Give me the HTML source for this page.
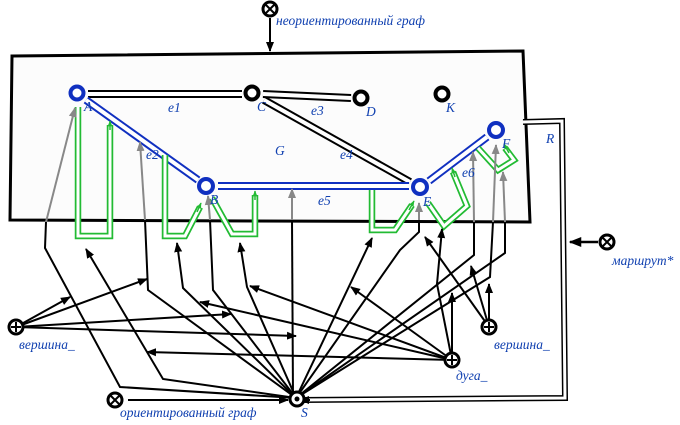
<!DOCTYPE html>
<html><head><meta charset="utf-8"><style>
body{margin:0;background:#fff}
svg{display:block}
.l{font-family:"Liberation Serif",serif;font-style:italic;fill:#1040b0;font-size:13.5px}
</style></head><body>
<svg width="680" height="425" viewBox="0 0 680 425" xmlns="http://www.w3.org/2000/svg">
<defs>
<marker id="ab" viewBox="0 0 10 10" refX="9" refY="5" markerWidth="5" markerHeight="5" orient="auto"><path d="M0,1L10,5L0,9z" fill="#000"/></marker>
<marker id="ag" viewBox="0 0 10 10" refX="9" refY="5" markerWidth="5" markerHeight="5" orient="auto"><path d="M0,1L10,5L0,9z" fill="#888"/></marker>
<marker id="agr" viewBox="0 0 10 10" refX="9" refY="5" markerWidth="4" markerHeight="4" orient="auto"><path d="M0,1L10,5L0,9z" fill="#22bb33"/></marker>
</defs>
<polygon points="12,56 523,51 530,222 10,220" fill="#fcfcfc" stroke="#000" stroke-width="3"/>
<path d="M523,122 L562,121 L565,398 L300,400" fill="none" stroke="#000" stroke-width="6"/>
<path d="M523,122 L562,121 L565,398 L300,400" fill="none" stroke="#fff" stroke-width="3"/>
<line x1="310" y1="400" x2="300" y2="400" stroke="#000" stroke-width="2" marker-end="url(#ab)"/>
<line x1="598" y1="242" x2="570" y2="242" stroke="#000" stroke-width="2.5" marker-end="url(#ab)"/>
<g stroke-linecap="butt">
<line x1="88" y1="94" x2="242" y2="94" stroke="#000" stroke-width="8"/><line x1="88" y1="94" x2="242" y2="94" stroke="#fff" stroke-width="4"/>
<line x1="263" y1="94" x2="351" y2="98" stroke="#000" stroke-width="8"/><line x1="263" y1="94" x2="351" y2="98" stroke="#fff" stroke-width="4"/>
<line x1="264" y1="100" x2="410" y2="182" stroke="#000" stroke-width="8"/><line x1="264" y1="100" x2="410" y2="182" stroke="#fff" stroke-width="4"/>
<line x1="86" y1="100" x2="198" y2="180" stroke="#1030c0" stroke-width="8"/><line x1="86" y1="100" x2="198" y2="180" stroke="#fff" stroke-width="4"/>
<line x1="218" y1="186" x2="409" y2="186" stroke="#1030c0" stroke-width="8"/><line x1="218" y1="186" x2="409" y2="186" stroke="#fff" stroke-width="4"/>
<line x1="429" y1="181" x2="487" y2="137" stroke="#1030c0" stroke-width="8"/><line x1="429" y1="181" x2="487" y2="137" stroke="#fff" stroke-width="4"/>
</g>
<g fill="none">
<path id="g1" d="M78,107 L78,236 L110,236 L110,125"/>
<path id="g2" d="M165,155 L165,236 L185,236 L200,207"/>
<path id="g3" d="M212,198 L232,234 L255,234 L255,195"/>
<path id="g4" d="M372,190 L372,230 L395,230 L412,205"/>
<path id="g5" d="M428,203 L444,226 L467,206 L453,172"/>
<path id="g6" d="M478,148 L498,170 L514,160 L505,148"/>
</g>
<g fill="none" stroke="#22bb33" stroke-width="6.5"><use href="#g1"/><use href="#g2"/><use href="#g3"/><use href="#g4"/><use href="#g5"/><use href="#g6"/></g>
<g fill="none" stroke="#fff" stroke-width="3"><use href="#g1"/><use href="#g2"/><use href="#g3"/><use href="#g4"/><use href="#g5"/><use href="#g6"/></g>
<g stroke="#22bb33" stroke-width="1.5"><line x1="110" y1="130" x2="110" y2="121" marker-end="url(#agr)"/><line x1="197" y1="212" x2="201" y2="203" marker-end="url(#agr)"/><line x1="255" y1="200" x2="255" y2="191" marker-end="url(#agr)"/><line x1="409" y1="210" x2="414" y2="201" marker-end="url(#agr)"/><line x1="455" y1="177" x2="452" y2="168" marker-end="url(#agr)"/><line x1="509" y1="153" x2="504" y2="144" marker-end="url(#agr)"/></g>
<g fill="#fff" stroke-width="4">
<circle cx="77" cy="93" r="6.5" stroke="#1030c0"/>
<circle cx="252" cy="93" r="6.5" stroke="#000"/>
<circle cx="361" cy="98" r="6.5" stroke="#000"/>
<circle cx="442" cy="94" r="6.5" stroke="#000"/>
<circle cx="206" cy="186" r="7" stroke="#1030c0"/>
<circle cx="420" cy="187" r="7" stroke="#1030c0"/>
<circle cx="496" cy="130" r="7" stroke="#1030c0"/>
</g>
<g fill="none" stroke="#888" stroke-width="2">
<polyline points="46,222 75,108" marker-end="url(#ag)"/>
<polyline points="145,220 140,142" marker-end="url(#ag)"/>
<polyline points="210,220 208,196" marker-end="url(#ag)"/>
<polyline points="292,220 292,189" marker-end="url(#ag)"/>
<polyline points="419,220 419,203" marker-end="url(#ag)"/>
<polyline points="474,222 473,152" marker-end="url(#ag)"/>
<polyline points="493,222 496,145" marker-end="url(#ag)"/>
<polyline points="505,222 503,172" marker-end="url(#ag)"/>
</g>
<g fill="none" stroke="#000" stroke-width="2">
<polyline points="296,398 120,387 45,248 46,222"/>
<polyline points="296,398 163,379 86,249" marker-end="url(#ab)"/>
<polyline points="296,398 148,290 145,220"/>
<polyline points="296,398 183,288 177,243" marker-end="url(#ab)"/>
<polyline points="296,398 213,290 210,220"/>
<polyline points="296,398 247,287 240,243" marker-end="url(#ab)"/>
<polyline points="293,398 292,220"/>
<polyline points="296,398 372,238" marker-end="url(#ab)"/>
<polyline points="296,398 400,250 419,232 419,220"/>
<polyline points="296,398 474,255 474,222"/>
<polyline points="296,398 490,277 493,222"/>
<polyline points="296,398 505,253 505,222"/>
<polyline points="16,327 70,297" marker-end="url(#ab)"/>
<polyline points="16,327 147,279" marker-end="url(#ab)"/>
<polyline points="16,327 231,314" marker-end="url(#ab)"/>
<polyline points="16,327 296,336" marker-end="url(#ab)"/>
<polyline points="452,360 147,352" marker-end="url(#ab)"/>
<polyline points="452,360 200,302" marker-end="url(#ab)"/>
<polyline points="452,360 250,286" marker-end="url(#ab)"/>
<polyline points="452,360 351,287" marker-end="url(#ab)"/>
<polyline points="452,360 437,284 442,229" marker-end="url(#ab)"/>
<polyline points="452,360 452,293" marker-end="url(#ab)"/>
<polyline points="489,327 425,237" marker-end="url(#ab)"/>
<polyline points="489,327 471,266" marker-end="url(#ab)"/>
<polyline points="489,327 489,284" marker-end="url(#ab)"/>
<polyline points="128,400 288,400" marker-end="url(#ab)"/>
<polyline points="270,18 270,51" marker-end="url(#ab)"/>
</g>
<g stroke="#000" stroke-width="3" fill="#fff">
<circle cx="270" cy="9" r="7"/><circle cx="115" cy="400" r="7"/><circle cx="607" cy="242" r="7"/>
<circle cx="16" cy="327" r="7"/><circle cx="489" cy="327" r="7"/><circle cx="452" cy="360" r="7"/>
<circle cx="297" cy="399" r="7"/>
</g>
<g stroke="#000" stroke-width="2">
<path d="M266,5L274,13M274,5L266,13M111,396L119,404M119,396L111,404M603,238L611,246M611,238L603,246"/>
<path d="M11,327H21M16,322V332M484,327H494M489,322V332M447,360H457M452,355V365"/>
</g>
<circle cx="297" cy="399" r="2.5" fill="#000"/>
<text class="l" x="276" y="25">неориентированный граф</text>
<text class="l" x="84" y="111">A</text><text class="l" x="257" y="111">C</text>
<text class="l" x="366" y="116">D</text><text class="l" x="446" y="112">K</text>
<text class="l" x="210" y="204">B</text><text class="l" x="423" y="206">E</text><text class="l" x="502" y="148">F</text>
<text class="l" x="168" y="112">e1</text><text class="l" x="146" y="159">e2</text><text class="l" x="311" y="115">e3</text>
<text class="l" x="340" y="159">e4</text><text class="l" x="318" y="205">e5</text><text class="l" x="462" y="177">e6</text>
<text class="l" x="275" y="155">G</text><text class="l" x="546" y="143">R</text>
<text class="l" x="612" y="265">маршрут*</text>
<text class="l" x="19" y="349">вершина_</text>
<text class="l" x="494" y="349">вершина_</text>
<text class="l" x="456" y="380">дуга_</text>
<text class="l" x="120" y="417">ориентированный граф</text>
<text class="l" x="301" y="417">S</text>
</svg>
</body></html>
